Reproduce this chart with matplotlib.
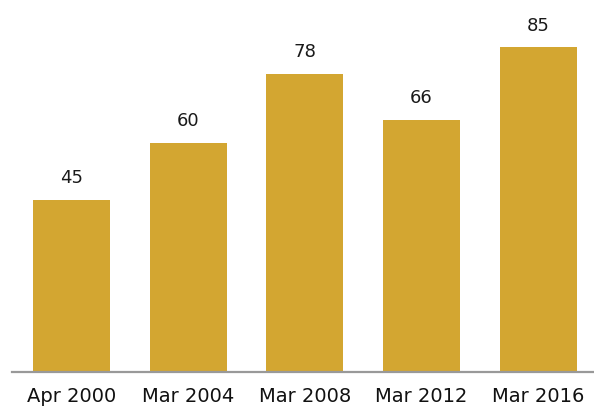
import matplotlib
matplotlib.use("Agg")
import matplotlib.pyplot as plt
import numpy as np

labels = ["Apr 2000", "Mar 2004", "Mar 2008", "Mar 2012", "Mar 2016"]
values = [45, 60, 78, 66, 85]

bar_color = "#D3A631"

plt.rcParams['font.family'] = ['DejaVu Sans']

fig = plt.figure(figsize=(5.94, 4.12), dpi=100)
ax = fig.add_axes([12 / 594, 40 / 412, 582 / 594, 372 / 412])

x = np.arange(len(values))
bars = ax.bar(x, values, width=0.66, color=bar_color)

for xi, v in zip(x, values):
    ax.annotate(str(v), (xi, v), xytext=(0, 9), textcoords="offset points",
                ha="center", va="bottom", fontsize=13, color="#1a1a1a")

ax.set_xlim(-0.51, 4.48)
ax.set_ylim(0, 97.3)
ax.set_xticks(x)
ax.set_xticklabels(labels, fontsize=14, color="#111111")
ax.tick_params(axis="x", length=0, pad=11)
ax.set_yticks([])

for side in ["top", "left", "right"]:
    ax.spines[side].set_visible(False)
ax.spines["bottom"].set_color("#999999")
ax.spines["bottom"].set_linewidth(1.6)

fig.savefig("out.png", dpi=100)
